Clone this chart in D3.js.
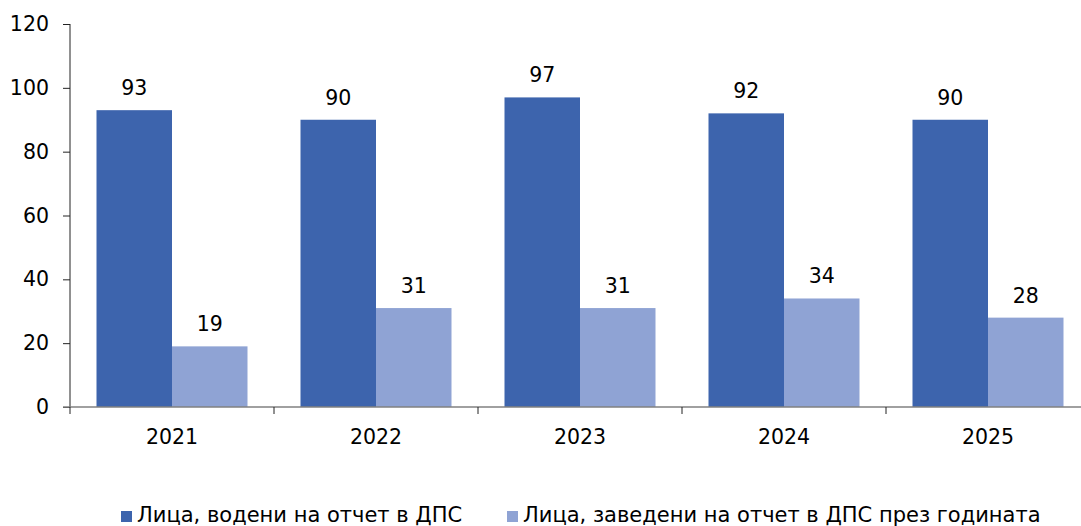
<!DOCTYPE html>
<html><head><meta charset="utf-8">
<script src="https://cdn.jsdelivr.net/npm/d3@7/dist/d3.min.js"></script>
<style>body{margin:0;background:#fff;overflow:hidden}svg{display:block}text{font-family:"DejaVu Sans",Verdana,sans-serif;fill:#000}</style>
</head><body><svg id="c" width="1081" height="526"></svg>
<script>
const categories = ["2021","2022","2023","2024","2025"];
const seriesNames = ["Лица, водени на отчет в ДПС","Лица, заведени на отчет в ДПС през годината"];
const series1 = [93,90,97,92,90];
const series2 = [19,31,31,34,28];
const yTicks = [0,20,40,60,80,100,120];
const colors = ["#3D64AD","#8FA3D4"];
const fs = "20.5px";

const svg = d3.select("#c");
const x0 = d3.scaleBand().domain(categories).range([70,1090]).paddingInner(0).paddingOuter(0);
const y = d3.scaleLinear().domain([0,120]).range([407,24]);
const inner = d3.scaleBand().domain([0,1]).range([0,x0.bandwidth()]).paddingInner(0).paddingOuter(0.351);

const data = categories.map((c,i)=>({c, v:[series1[i],series2[i]]}));
const g = svg.append("g");
data.forEach(d=>{
  d.v.forEach((v,j)=>{
    g.append("rect").attr("x",x0(d.c)+inner(j)).attr("y",y(v)).attr("width",inner.bandwidth()).attr("height",y(0)-y(v)).attr("fill",colors[j]);
    g.append("text").attr("x",x0(d.c)+inner(j)+inner.bandwidth()/2).attr("y",y(v)-15).attr("text-anchor","middle").attr("font-size",fs).text(v);
  });
});

// y axis
const yAx = svg.append("g").attr("transform","translate(70,0)").call(d3.axisLeft(y).tickValues(yTicks).tickSize(7).tickPadding(14).tickSizeOuter(0));
yAx.select(".domain").attr("stroke","#222").attr("d","M0,24V407");
yAx.selectAll(".tick line").attr("stroke","#222");
yAx.selectAll("text").attr("font-size",fs).attr("font-family","DejaVu Sans, Verdana, sans-serif").attr("fill","#000");

// x axis
const xAx = svg.append("g").attr("transform","translate(0,407)");
xAx.append("line").attr("x1",63).attr("x2",1090).attr("stroke","#808080").attr("stroke-width",1.5);
const bounds = categories.map(c=>x0(c)).concat([x0.range()[1]]);
bounds.forEach(b=>xAx.append("line").attr("x1",b).attr("x2",b).attr("y1",0).attr("y2",7).attr("stroke","#222"));
categories.forEach(c=>xAx.append("text").attr("x",x0(c)+x0.bandwidth()/2).attr("y",37).attr("text-anchor","middle").attr("font-size",fs).text(c));

// legend
const leg = svg.append("g");
const lx = [121,507];
seriesNames.forEach((n,i)=>{
  leg.append("rect").attr("x",lx[i]).attr("y",511).attr("width",11).attr("height",11).attr("fill",colors[i]);
  leg.append("text").attr("x",lx[i]+16).attr("y",522).attr("font-size","21px").text(n);
});
</script></body></html>
